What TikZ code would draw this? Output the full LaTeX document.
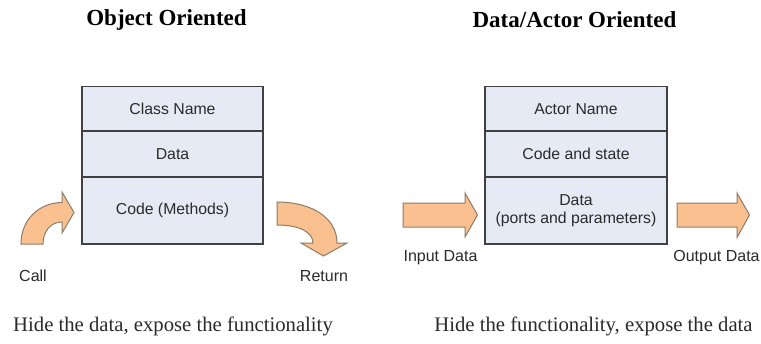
\documentclass[tikz,border=0pt]{standalone}
\usepackage{fontspec}
\setmainfont{Liberation Serif}
\newfontfamily\arialf{Liberation Sans}
\definecolor{cellfill}{HTML}{E5EAF5}
\definecolor{cellline}{HTML}{404040}
\definecolor{arrfill}{HTML}{FAC08F}
\definecolor{arrline}{HTML}{8E7C68}
\definecolor{txt}{HTML}{2A2A2A}
\tikzset{
  cell/.style={draw=cellline, fill=cellfill, line width=1.3pt, minimum width=181pt, inner sep=0pt,
    font=\arialf\fontsize{15.8}{19}\selectfont, text=txt, align=center},
  title/.style={font=\bfseries\fontsize{23}{27}\selectfont, text=black, inner sep=0pt},
  caption/.style={font=\fontsize{20.7}{24}\selectfont, text=txt, inner sep=0pt},
  lbl/.style={font=\arialf\fontsize{16}{19}\selectfont, text=txt, inner sep=0pt},
  blockarrow/.style={fill=arrfill, draw=arrline, line width=1pt, line join=miter}
}
\begin{document}
\begin{tikzpicture}[x=1pt,y=-1pt]
\useasboundingbox (0,0) rectangle (761,343);
\fill[white] (0,0) rectangle (761,343);

% titles
\node[title] (t1) at (166.5,20) {Object Oriented};
\node[title] (t2) at (574.5,20) {Data/Actor Oriented};

% left box
\node[cell, minimum height=44.5pt] (lc1) at (172.5,108.75) {Class Name};
\node[cell, minimum height=46pt] (lc2) at (172.5,154) {Data};
\node[cell, minimum height=67pt] (lc3) at (172.5,210.5) {Code (Methods)};

% right box
\node[cell, minimum height=44.5pt, minimum width=182pt] (rc1) at (576,108.75) {Actor Name};
\node[cell, minimum height=46pt, minimum width=182pt] (rc2) at (576,154) {Code and state};
\node[cell, minimum height=67pt, minimum width=182pt] (rc3) at (576,210.5) {Data\\[-1pt](ports and parameters)};

% call arrow
\draw[blockarrow] (21,244) .. controls (21,219) and (40,202.5) .. (62,202.5)
  -- (62,192) -- (74,212.5) -- (62,233) -- (62,222)
  .. controls (50,222) and (43,232) .. (43,244) -- cycle;
% return arrow
\draw[blockarrow] (277,202) .. controls (312,202) and (337,218) .. (337,243)
  -- (347,243) -- (323.5,256) -- (301,243) -- (313,243)
  .. controls (313,232) and (299,225) .. (277,225) -- cycle;
% input arrow
\draw[blockarrow] (403,203) -- (465,203) -- (465,193) -- (477.5,215) -- (465,237) -- (465,227) -- (403,227) -- cycle;
% output arrow
\draw[blockarrow] (677,203) -- (737,203) -- (737,193) -- (749.5,215) -- (737,237.5) -- (737,227) -- (677,227) -- cycle;

% labels
\node[lbl] (call) at (33,276) {Call};
\node[lbl] (ret) at (324,276) {Return};
\node[lbl] (inp) at (440.5,258) {Input Data};
\node[lbl] (outp) at (716.5,258) {Output Data};

% captions
\node[caption] (c1) at (173,326) {Hide the data, expose the functionality};
\node[caption] (c2) at (593.5,326) {Hide the functionality, expose the data};
\end{tikzpicture}
\end{document}
